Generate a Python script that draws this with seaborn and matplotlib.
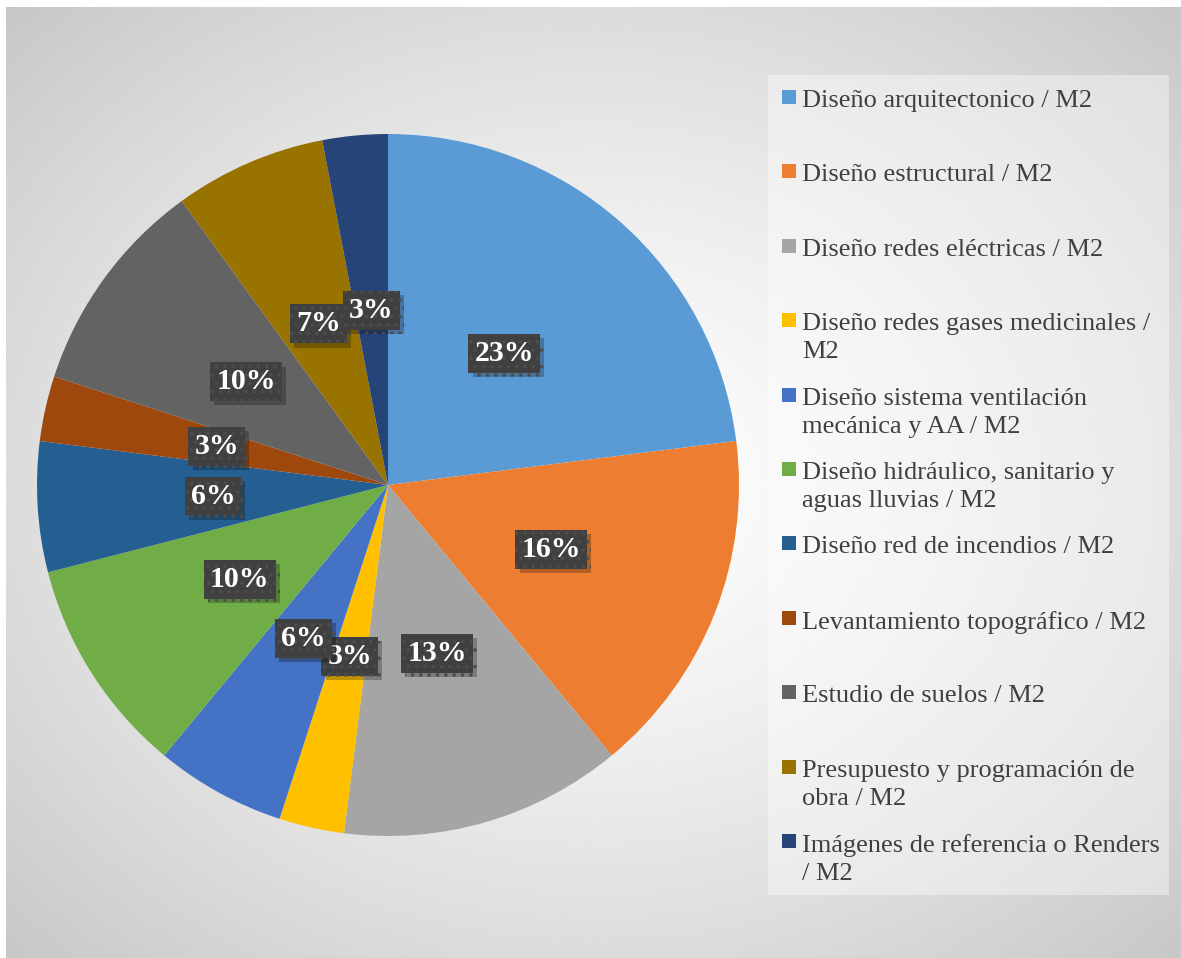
import textwrap
import numpy as np
import matplotlib
matplotlib.use("Agg")
import matplotlib.pyplot as plt
import matplotlib.patheffects as pe
from matplotlib.patches import Rectangle
import seaborn as sns

categories = [
    "Diseño arquitectonico / M2",
    "Diseño estructural / M2",
    "Diseño redes eléctricas / M2",
    "Diseño redes gases medicinales / M2",
    "Diseño sistema ventilación mecánica y AA / M2",
    "Diseño hidráulico, sanitario y aguas lluvias / M2",
    "Diseño red de incendios / M2",
    "Levantamiento topográfico / M2",
    "Estudio de suelos / M2",
    "Presupuesto y programación de obra / M2",
    "Imágenes de referencia o Renders / M2",
]
values = [23, 16, 13, 3, 6, 10, 6, 3, 10, 7, 3]
colors = ["#5B9BD5", "#ED7D31", "#A5A5A5", "#FFC000", "#4472C4", "#70AD47",
          "#255E91", "#9E480E", "#636363", "#997300", "#264478"]

sns.set_theme(style="white")
plt.rcParams["font.family"] = ["Liberation Serif", "DejaVu Serif"]
plt.rcParams["hatch.linewidth"] = 1.4
palette = sns.color_palette(colors)

W, H = 1181, 958
fig = plt.figure(figsize=(W / 100, H / 100), dpi=100)
fig.patch.set_facecolor("white")

# background radial gradient (chart area)
bg = fig.add_axes([6 / W, 0, 1 - 6 / W, 1 - 7 / H])
bg.set_axis_off()
ny, nx = 400, 500
yy, xx = np.mgrid[0:ny, 0:nx]
cx, cy = nx * 0.5, ny * 0.5
d = np.sqrt(((xx - cx) / (nx * 0.5)) ** 2 + ((yy - cy) / (ny * 0.5)) ** 2) / np.sqrt(2)
val = 1.0 - 0.22 * np.clip(d, 0, 1) ** 1.3
bg.imshow(val, cmap="gray", vmin=0, vmax=1, aspect="auto", extent=[0, 1, 0, 1])
bg.set_xlim(0, 1)
bg.set_ylim(0, 1)

# pie axes
cxp, cyp, r = 388, 485, 351
ax = fig.add_axes([(cxp - r) / W, (H - cyp - r) / H, 2 * r / W, 2 * r / H])
ax.set_facecolor("none")
wedges, texts, autotexts = ax.pie(
    values, colors=palette, startangle=90, counterclock=False,
    autopct="%1.0f%%", pctdistance=0.5,
    wedgeprops=dict(linewidth=0),
    textprops=dict(color="white", fontsize=21.5, fontweight="bold"),
)
ax.set_xlim(-1, 1)
ax.set_ylim(-1, 1)
ax.set_aspect("equal")

for t in autotexts:
    t.set_zorder(6)
    t.set_bbox(dict(boxstyle="square,pad=0.2", facecolor="#404040",
                    edgecolor="#4c4c4c", hatch="..", linewidth=0))
    t.get_bbox_patch().set_path_effects(
        [pe.SimplePatchShadow(offset=(3, -3), shadow_rgbFace="black", alpha=0.25), pe.Normal()])

# legend box
fig.patches.append(Rectangle((768 / W, 1 - 895 / H), (1169 - 768) / W, (895 - 75) / H,
                             transform=fig.transFigure, facecolor="white", alpha=0.4,
                             linewidth=0, zorder=1))
base0, step = 106, 74.4
for i, (cat, col) in enumerate(zip(categories, palette)):
    yb = base0 + i * step
    fig.patches.append(Rectangle((782 / W, 1 - (yb - 2) / H), 14 / W, 14 / H,
                                 transform=fig.transFigure, facecolor=col,
                                 linewidth=0, zorder=2))
    fig.text(802 / W, 1 - (yb - 16) / H, textwrap.fill(cat, 32), ha="left", va="top",
             fontsize=19, color="#404040", linespacing=1.35, zorder=3)

fig.savefig("out.png", dpi=100, facecolor="white")
